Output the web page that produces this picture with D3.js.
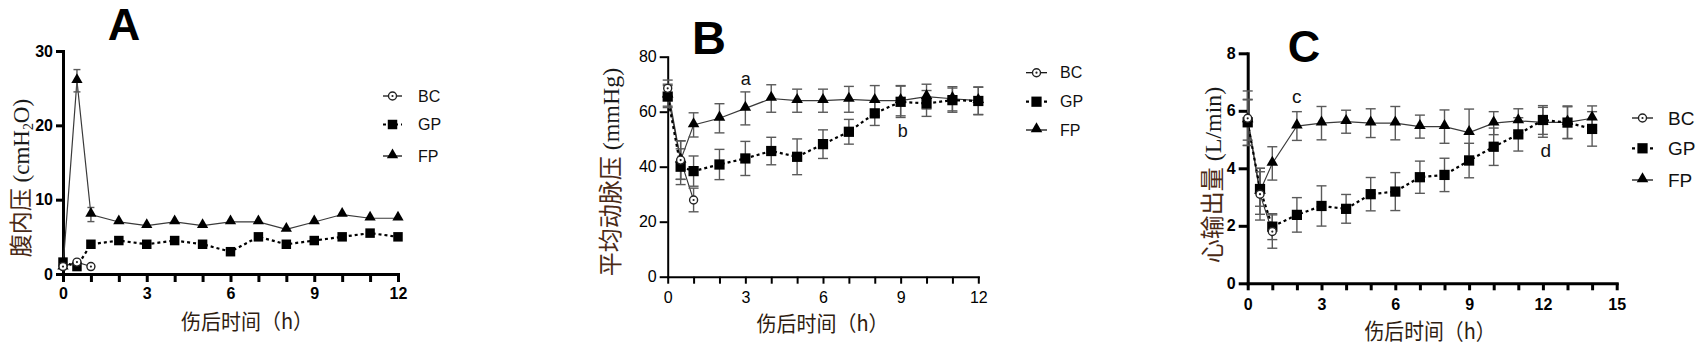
<!DOCTYPE html>
<html>
<head>
<meta charset="utf-8">
<script src="https://cdn.jsdelivr.net/npm/d3@7"></script>
<style>
  html, body { margin: 0; padding: 0; background: #fff; }
  svg { display: block; }
</style>
</head>
<body>
<svg id="fig" width="1698" height="347"></svg>
<script>
// ---------- Panel A: intra-abdominal pressure (cmH2O) ----------
const timeA   = [0, 0.5, 1, 2, 3, 4, 5, 6, 7, 8, 9, 10, 11, 12];
const fpA     = [0.9, 26, 8, 7, 6.5, 7, 6.5, 7, 7, 6, 7, 8, 7.5, 7.5];
const fpAErr  = [0, 1.5, 0.95, 0, 0, 0, 0, 0, 0, 0, 0, 0, 0, 0];
const gpA     = [1.6, 1.0, 4, 4.5, 4, 4.5, 4, 3, 5, 4, 4.5, 5, 5.5, 5];
const gpAErr  = [0, 0, 0, 0, 0, 0, 0, 0, 0, 0, 0, 0, 0, 0];
const timeBcA = [0, 0.5, 1];
const bcA     = [1.0, 1.6, 1.0];
const bcAErr  = [0, 0, 0];

// ---------- Panel B: mean arterial pressure (mmHg) ----------
const timeB   = [0, 0.5, 1, 2, 3, 4, 5, 6, 7, 8, 9, 10, 11, 12];
const fpB     = [66, 42.4, 55.2, 57.6, 61.2, 64.8, 64, 64, 64.5, 64, 64, 65.5, 64.7, 64];
const fpBErr  = [4, 7, 4.4, 5.3, 6, 5, 4.2, 4.2, 4.7, 5.5, 5.5, 4.5, 4.4, 5];
const gpB     = [65.5, 40, 38.4, 40.8, 43, 45.7, 43.6, 48.2, 52.7, 59.4, 63.6, 63, 64.2, 63.9];
const gpBErr  = [4, 6.5, 5.5, 5.5, 6.2, 5, 6.5, 5.2, 4.5, 4.4, 5.7, 4.7, 4.4, 5];
const timeBcB = [0, 0.5, 1];
const bcB     = [68.5, 42.4, 27.9];
const bcBErr  = [3, 7, 4.3];

// ---------- Panel C: cardiac output (L/min) ----------
const timeC   = [0, 0.5, 1, 2, 3, 4, 5, 6, 7, 8, 9, 10, 11, 12, 13, 14];
const fpC     = [5.68, 3.2, 4.17, 5.47, 5.57, 5.62, 5.57, 5.57, 5.45, 5.45, 5.24, 5.57, 5.65, 5.6, 5.6, 5.74];
const fpCErr  = [0.7, 0.8, 0.58, 0.5, 0.58, 0.4, 0.5, 0.58, 0.4, 0.58, 0.82, 0.4, 0.42, 0.52, 0.57, 0.43];
const gpC     = [5.6, 3.28, 1.97, 2.38, 2.69, 2.59, 3.1, 3.19, 3.69, 3.77, 4.27, 4.75, 5.18, 5.68, 5.59, 5.37];
const gpCErr  = [0.8, 0.6, 0.45, 0.6, 0.7, 0.5, 0.58, 0.66, 0.56, 0.58, 0.6, 0.65, 0.58, 0.5, 0.55, 0.6];
const timeBcC = [0, 0.5, 1];
const bcC     = [5.74, 3.1, 1.8];
const bcCErr  = [0.95, 0.9, 0.58];

// Tick values and labels
const ticksYA = [0, 10, 20, 30];
const ticksYB = [0, 20, 40, 60, 80];
const ticksYC = [0, 2, 4, 6, 8];
const legendNames = ["BC", "GP", "FP"];

const svg = d3.select("#fig");
svg.append("rect").attr("width", 1698).attr("height", 347).attr("fill", "#fff");

const CJK = "'Noto Sans CJK SC', 'Noto Sans', sans-serif";
const SERIF = "'Liberation Serif', 'DejaVu Serif', serif";
const SANS = "'Liberation Sans', Arial, sans-serif";
const cjkColorY = "#4a2a16";
const cjkColorX = "#2e1c10";

function zip(t, v, e) { return t.map((d, i) => ({ t: d, v: v[i], e: e[i] })); }

function drawPanel(o) {
  const g = svg.append("g");
  const x = d3.scaleLinear().domain([0, o.xMax]).range([o.x0, o.x1]);
  const y = d3.scaleLinear().domain([0, o.yMax]).range([o.y0, o.y1]);

  // axes
  const xa = g.append("g").attr("transform", `translate(0,${o.y0})`)
    .call(d3.axisBottom(x).tickValues(d3.range(0, o.xMax + 1, 1))
      .tickFormat(d => d % 3 === 0 ? d : "")
      .tickSizeInner(o.tickX).tickSizeOuter(0).tickPadding(o.padX));
  const ya = g.append("g").attr("transform", `translate(${o.x0},0)`)
    .call(d3.axisLeft(y).tickValues(o.ticksY)
      .tickSizeInner(o.tickY).tickSizeOuter(0).tickPadding(o.padY));
  [xa, ya].forEach(a => {
    a.select(".domain").attr("stroke", "#000").attr("stroke-width", o.axisW).attr("stroke-linecap", "square");
    a.selectAll(".tick line").attr("stroke", "#000").attr("stroke-width", o.axisW);
    a.selectAll(".tick text").attr("fill", "#000")
      .style("font-family", SANS).style("font-size", o.tickFont + "px")
      .style("font-weight", o.tickBold ? "bold" : "normal");
  });

  const fp = zip(o.tFP, o.fp, o.fpErr);
  const gp = zip(o.tGP, o.gp, o.gpErr);
  const bc = zip(o.tBC, o.bc, o.bcErr);

  const line = d3.line().x(d => x(d.t)).y(d => y(d.v));

  // connecting lines
  g.append("path").datum(bc).attr("d", line).attr("fill", "none")
    .attr("stroke", "#333").attr("stroke-width", 1.1);
  g.append("path").datum(fp).attr("d", line).attr("fill", "none")
    .attr("stroke", "#3a3a3a").attr("stroke-width", 1.2);
  g.append("path").datum(gp).attr("d", line).attr("fill", "none")
    .attr("stroke", "#000").attr("stroke-width", 2.2).attr("stroke-dasharray", "3,3");

  // error bars
  const bars = [].concat(fp, gp, bc).filter(d => d.e > 0);
  const eb = g.append("g").attr("stroke", "#5a5a5a").attr("stroke-width", 1.4);
  bars.forEach(d => {
    const xx = x(d.t), yt = y(d.v + d.e), yb = y(d.v - d.e);
    eb.append("line").attr("x1", xx).attr("x2", xx).attr("y1", yt).attr("y2", yb);
    eb.append("line").attr("x1", xx - o.cap).attr("x2", xx + o.cap).attr("y1", yt).attr("y2", yt);
    eb.append("line").attr("x1", xx - o.cap).attr("x2", xx + o.cap).attr("y1", yb).attr("y2", yb);
  });

  // markers
  const tri = d3.symbol().type(d3.symbolTriangle).size(o.triSize);
  const sq = d3.symbol().type(d3.symbolSquare).size(o.sqSize);
  g.append("g").selectAll("path").data(fp).join("path")
    .attr("d", tri).attr("transform", d => `translate(${x(d.t)},${y(d.v) - 1})`).attr("fill", "#000");
  g.append("g").selectAll("path").data(gp).join("path")
    .attr("d", sq).attr("transform", d => `translate(${x(d.t)},${y(d.v)})`).attr("fill", "#000");
  const bcg = g.append("g");
  bc.forEach(d => {
    bcg.append("circle").attr("cx", x(d.t)).attr("cy", y(d.v)).attr("r", o.circR)
      .attr("fill", "#fff").attr("stroke", "#222").attr("stroke-width", 1.4);
    bcg.append("circle").attr("cx", x(d.t)).attr("cy", y(d.v)).attr("r", 1.1).attr("fill", "#222");
  });

  // panel letter
  g.append("text").attr("x", o.letterX).attr("y", o.letterY).attr("text-anchor", "middle")
    .style("font-family", SANS).style("font-weight", "bold").style("font-size", o.letterSize + "px")
    .text(o.letter);

  // significance annotations
  o.notes.forEach(n => {
    g.append("text").attr("x", n.x).attr("y", n.y).attr("text-anchor", "middle")
      .style("font-family", SANS).style("font-size", o.noteSize + "px").attr("fill", "#111").text(n.s);
  });

  // y-axis title (rotated)
  const yt = g.append("text")
    .attr("transform", `translate(${o.yTitleX},${o.yTitleY}) rotate(-90)`)
    .attr("text-anchor", "middle").style("font-size", o.yTitleSize + "px");
  yt.append("tspan").style("font-family", CJK).attr("fill", cjkColorY).text(o.yTitleCJK);
  o.yTitleUnit.forEach(u => {
    const ts = yt.append("tspan").style("font-family", SERIF).attr("fill", "#1a1a1a").text(u.s);
    if (u.sub) ts.style("font-size", (o.yTitleSize * 0.6) + "px").attr("dy", 4);
    if (u.back) ts.attr("dy", -4);
  });

  // x-axis title
  g.append("text").attr("x", o.xTitleX).attr("y", o.xTitleY).attr("text-anchor", "middle")
    .style("font-family", CJK).style("font-size", o.xTitleSize + "px").attr("fill", cjkColorX)
    .attr("textLength", o.xTitleLen).attr("lengthAdjust", "spacingAndGlyphs")
    .text("伤后时间（h）");

  // legend
  const lg = g.append("g");
  legendNames.forEach((name, i) => {
    const cy = o.legY[i];
    lg.append("line").attr("x1", o.legX0).attr("x2", o.legX1).attr("y1", cy).attr("y2", cy)
      .attr("stroke", "#000").attr("stroke-width", name === "GP" ? 2.2 : 1.2)
      .attr("stroke-dasharray", name === "GP" ? "3,3" : null);
    const cx = (o.legX0 + o.legX1) / 2;
    if (name === "BC") {
      lg.append("circle").attr("cx", cx).attr("cy", cy).attr("r", o.circR)
        .attr("fill", "#fff").attr("stroke", "#222").attr("stroke-width", 1.4);
      lg.append("circle").attr("cx", cx).attr("cy", cy).attr("r", 1.1).attr("fill", "#222");
    } else if (name === "GP") {
      lg.append("path").attr("d", sq).attr("transform", `translate(${cx},${cy})`).attr("fill", "#000");
    } else {
      lg.append("path").attr("d", tri).attr("transform", `translate(${cx},${cy - 1})`).attr("fill", "#000");
    }
    lg.append("text").attr("x", o.legTextX).attr("y", cy + o.legFont * 0.36)
      .style("font-family", SANS).style("font-size", o.legFont + "px").attr("fill", "#111").text(name);
  });
}

drawPanel({
  x0: 63, x1: 398, y0: 274, y1: 51, xMax: 12, yMax: 30, ticksY: ticksYA,
  axisW: 3, tickX: 8, tickY: 7, padX: 6, padY: 3, tickFont: 16, tickBold: true,
  tFP: timeA, fp: fpA, fpErr: fpAErr, tGP: timeA, gp: gpA, gpErr: gpAErr,
  tBC: timeBcA, bc: bcA, bcErr: bcAErr,
  cap: 3.5, triSize: 55, sqSize: 90, circR: 4,
  letter: "A", letterX: 124, letterY: 40, letterSize: 45,
  notes: [], noteSize: 18,
  yTitleX: 29, yTitleY: 178, yTitleSize: 23, yTitleCJK: "腹内压",
  yTitleUnit: [{ s: " (cmH" }, { s: "2", sub: true }, { s: "O)", back: true }],
  xTitleX: 247, xTitleY: 329, xTitleSize: 21, xTitleLen: 132,
  legX0: 383, legX1: 402, legY: [96, 124.5, 156], legTextX: 418, legFont: 16
});

drawPanel({
  x0: 667.7, x1: 978.3, y0: 276.7, y1: 56.7, xMax: 12, yMax: 80, ticksY: ticksYB,
  axisW: 2, tickX: 7, tickY: 8, padX: 8, padY: 3, tickFont: 16, tickBold: false,
  tFP: timeB, fp: fpB, fpErr: fpBErr, tGP: timeB, gp: gpB, gpErr: gpBErr,
  tBC: timeBcB, bc: bcB, bcErr: bcBErr,
  cap: 5, triSize: 58, sqSize: 105, circR: 4,
  letter: "B", letterX: 709, letterY: 54, letterSize: 47,
  notes: [{ s: "a", x: 745.7, y: 85 }, { s: "b", x: 902.7, y: 136.5 }], noteSize: 18,
  yTitleX: 619, yTitleY: 172, yTitleSize: 24, yTitleCJK: "平均动脉压",
  yTitleUnit: [{ s: " (mmHg)" }],
  xTitleX: 822.5, xTitleY: 331, xTitleSize: 21, xTitleLen: 132,
  legX0: 1026, legX1: 1047, legY: [72.7, 101.7, 130], legTextX: 1060, legFont: 16
});

drawPanel({
  x0: 1247.7, x1: 1616.7, y0: 283.3, y1: 53.3, xMax: 15, yMax: 8, ticksY: ticksYC,
  axisW: 3, tickX: 7, tickY: 9, padX: 8, padY: 3, tickFont: 16, tickBold: true,
  tFP: timeC, fp: fpC, fpErr: fpCErr, tGP: timeC, gp: gpC, gpErr: gpCErr,
  tBC: timeBcC, bc: bcC, bcErr: bcCErr,
  cap: 5, triSize: 58, sqSize: 105, circR: 4,
  letter: "C", letterX: 1304, letterY: 62, letterSize: 45,
  notes: [{ s: "c", x: 1296.7, y: 103 }, { s: "d", x: 1545.7, y: 157 }], noteSize: 19,
  yTitleX: 1221, yTitleY: 175, yTitleSize: 24, yTitleCJK: "心输出量",
  yTitleUnit: [{ s: " (L/min)" }],
  xTitleX: 1430, xTitleY: 339, xTitleSize: 22, xTitleLen: 131,
  legX0: 1632, legX1: 1653, legY: [118, 148.3, 180], legTextX: 1668, legFont: 19
});
</script>
</body>
</html>
